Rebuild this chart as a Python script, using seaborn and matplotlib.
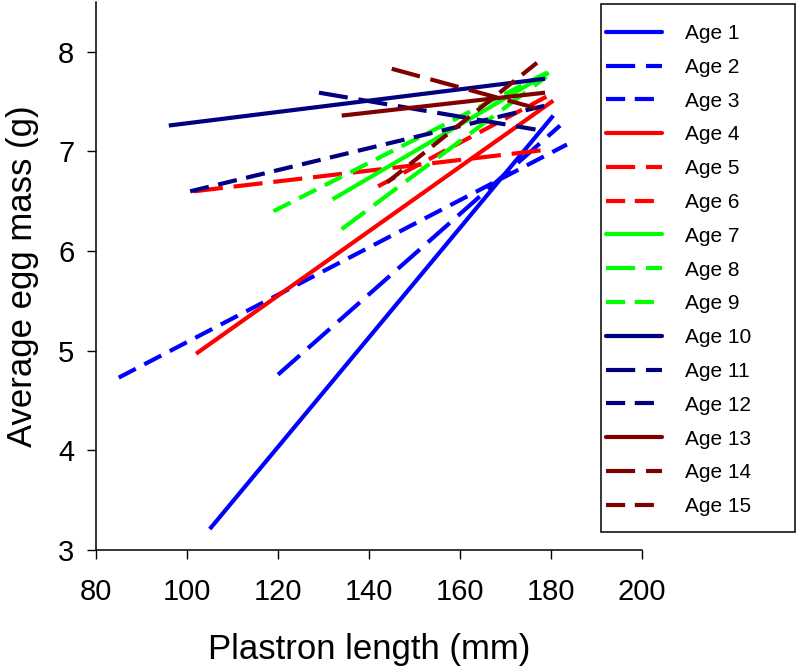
import matplotlib.pyplot as plt
import pandas as pd
import seaborn as sns
from matplotlib.lines import Line2D
from matplotlib.patches import Rectangle

# Regression lines per age class: start / end points
ages = ['Age %d' % i for i in range(1, 16)]
x_start = [105, 120, 85, 102, 101.5, 142, 132, 134, 119, 96, 129, 100.7, 134, 145, 144]
x_end = [180.5, 182, 183.5, 180.5, 179.5, 179, 179.5, 179, 179.5, 178.7, 176.6, 178.7, 178.7, 178.7, 177.2]
y_start = [3.21, 4.76, 4.73, 4.97, 6.60, 6.65, 6.52, 6.22, 6.40, 7.26, 7.59, 6.60, 7.36, 7.83, 6.69]
y_end = [7.36, 7.26, 7.07, 7.51, 7.02, 7.55, 7.79, 7.75, 7.80, 7.73, 7.22, 7.46, 7.59, 7.41, 7.90]

x_ticks = [80, 100, 120, 140, 160, 180, 200]
y_ticks = [3, 4, 5, 6, 7, 8]

base_colors = ['#0000ff', '#ff0000', '#00ff00', '#000080', '#800000']
patterns = ['', (7.0, 2.6), (4.6, 2.3)]

palette = {a: base_colors[i // 3] for i, a in enumerate(ages)}
dashes = {a: patterns[i % 3] for i, a in enumerate(ages)}

df = pd.DataFrame({
    'age': ages * 2,
    'length': x_start + x_end,
    'mass': y_start + y_end,
})

sns.set_style('ticks')
plt.rcParams['font.family'] = ['Liberation Sans', 'DejaVu Sans']
plt.rcParams['text.color'] = 'black'
plt.rcParams['axes.labelcolor'] = 'black'

fig = plt.figure(figsize=(7.99, 6.69), dpi=100)
ax = fig.add_axes([96 / 799, 1 - 550 / 669, (642 - 96) / 799, 548 / 669])

lw = 3.0
sns.lineplot(data=df, x='length', y='mass', hue='age', style='age',
             palette=palette, dashes=dashes, hue_order=ages, style_order=ages,
             estimator=None, sort=False, linewidth=lw, legend=False, ax=ax)
for ln in ax.get_lines():
    ln.set_dash_capstyle('butt')
    ln.set_solid_capstyle('butt')

ax.set_xlim(80, 200)
ax.set_ylim(3, 8.5)
ax.set_xticks(x_ticks)
ax.set_yticks(y_ticks)
ax.tick_params(direction='out', length=6.5, width=1, labelsize=21, colors='black')
ax.tick_params(axis='x', pad=14)
ax.tick_params(axis='y', pad=9)
for s in ['left', 'bottom']:
    ax.spines[s].set_linewidth(1.1)
    ax.spines[s].set_color('black')
sns.despine(ax=ax)

ax.set_xlabel('Plastron length (mm)', fontsize=25, labelpad=19)
ax.set_ylabel('Average egg mass (g)', fontsize=25, labelpad=14)

# Legend
handles = []
for a in ages:
    d = dashes[a]
    ls = '-' if d == '' else (0, d)
    handles.append(Line2D([], [], color=palette[a], linestyle=ls, linewidth=lw))
fig.legend(handles, ages, loc='upper left', bbox_to_anchor=(606 / 799, 1 - 24 / 669),
           frameon=False, fontsize=15, handlelength=2.7, handletextpad=1.1,
           labelspacing=0.71, borderpad=0, borderaxespad=0)
fig.patches.append(Rectangle((601 / 799, 1 - 532 / 669), 194 / 799, 528 / 669,
                             transform=fig.transFigure, fill=False,
                             edgecolor='black', linewidth=1.1))

fig.savefig('out.png', dpi=100)
